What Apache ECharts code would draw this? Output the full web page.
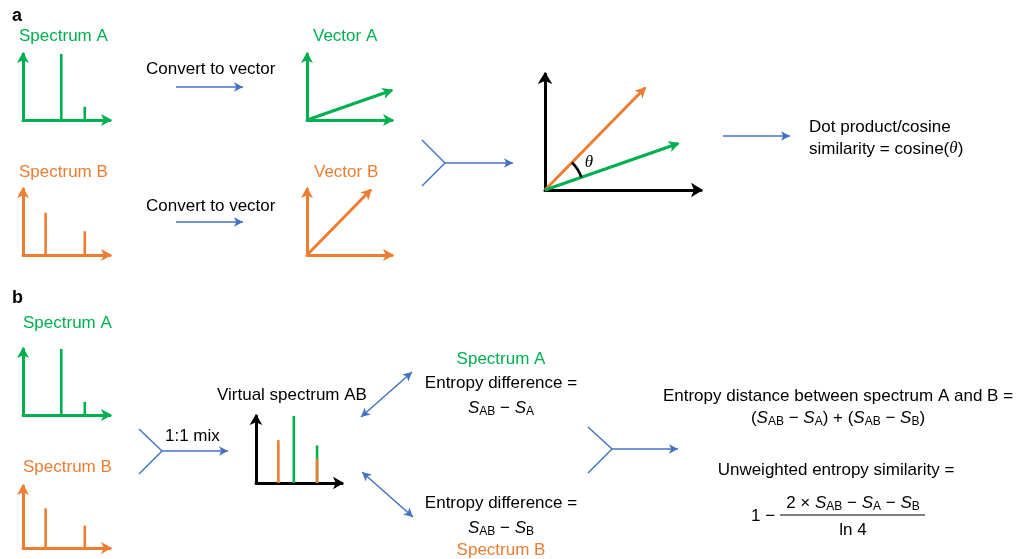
<!DOCTYPE html>
<html><head><meta charset="utf-8">
<script src="https://cdn.jsdelivr.net/npm/echarts@6/dist/echarts.min.js"></script>
<style>html,body{margin:0;padding:0;background:#fff}#c{width:1020px;height:559px}</style>
</head><body><div id="c"></div>
<script>
// ---------- data ----------
const mzA = [44, 71];
const intensityA = [100, 20];
const mzB = [26, 71];
const intensityB = [64, 36];
const vectorA = [0.945, 0.33];
const vectorB = [0.71, 0.725];
const panelLabels = ['a', 'b'];
const spectrumNames = ['Spectrum A', 'Spectrum B'];
const vectorNames = ['Vector A', 'Vector B'];

// ---------- styles ----------
const G = '#00B050', O = '#ED7D31', K = '#000000', BL = '#4472C4';
const FONT = '"Liberation Sans", Arial, Helvetica, sans-serif';
const SERIF = '"Liberation Serif", "Times New Roman", serif';
const FS = 17;

const grids = [
  {left: 23, top: 54, width: 87, height: 66},    // 0 a spectrum A
  {left: 23, top: 189, width: 87, height: 66},   // 1 a spectrum B
  {left: 307, top: 54, width: 85, height: 66},   // 2 vector A
  {left: 307, top: 189, width: 85, height: 66},  // 3 vector B
  {left: 545, top: 74, width: 156, height: 116}, // 4 combined vectors
  {left: 23, top: 349, width: 87, height: 66},   // 5 b spectrum A
  {left: 23, top: 486, width: 87, height: 62},   // 6 b spectrum B
  {left: 256, top: 416, width: 86, height: 67},  // 7 virtual spectrum
  {left: 0, top: 0, width: 1020, height: 559}    // 8 overlay for connectors
];
const axisColor = [G, O, G, O, K, G, O, K];
const xMax = [100, 100, 0.945, 0.945, 1.106, 100, 100, 100];
const yMax = [100, 100, 0.733, 0.733, 0.823, 100, 100, 100];
const arrowSz = [[9, 11], [9, 11], [9, 11], [9, 11], [11, 12], [9, 11], [9, 11], [9.5, 11]];

function axis(gi, max, color, arrow) {
  return {
    type: 'value', gridIndex: gi, min: 0, max: max,
    axisLine: {show: true, onZero: false, symbol: ['none', 'arrow'], symbolSize: arrow,
      symbolOffset: [0, 2], lineStyle: {color: color, width: 3}},
    axisTick: {show: false}, axisLabel: {show: false}, splitLine: {show: false}
  };
}
const xAxes = [], yAxes = [];
for (let i = 0; i < 8; i++) {
  xAxes.push(axis(i, xMax[i], axisColor[i], arrowSz[i]));
  yAxes.push(axis(i, yMax[i], axisColor[i], arrowSz[i]));
}
xAxes.push({type: 'value', gridIndex: 8, min: 0, max: 1020, show: false});
yAxes.push({type: 'value', gridIndex: 8, min: 0, max: 559, inverse: true, show: false});

const zip = (a, b) => a.map((v, i) => [v, b[i]]);
function bars(gi, data, color) {
  return {type: 'bar', xAxisIndex: gi, yAxisIndex: gi, data: data, barWidth: 2.6,
    barGap: '-100%', itemStyle: {color: color}, silent: true, clip: false};
}
// virtual spectrum (1:1 mix): A peaks drawn at their summed height, B drawn over them
const intensityAB = mzA.map((m, i) => intensityA[i] + (mzB.indexOf(m) >= 0 ? intensityB[mzB.indexOf(m)] : 0));

function vec(gi, v, color, size) {
  return {type: 'line', xAxisIndex: gi, yAxisIndex: gi, data: [], silent: true,
    markLine: {silent: true, symbol: ['none', 'arrow'], symbolSize: size,
      symbolOffset: [0, [0, -1.5]],
      label: {show: false}, emphasis: {disabled: true},
      lineStyle: {color: color, width: 3, type: 'solid'},
      data: [[{coord: [0, 0]}, {coord: v}]]}};
}

// connectors (layout, overlay pixel space)
const plainLines = [
  [[422, 140], [445, 163]], [[422, 186], [445, 163]],
  [[139, 429], [162, 451]], [[139, 474], [162, 451]],
  [[588, 427], [612, 449]], [[588, 473], [612, 449]]
];
const singleArrows = [
  [[176, 87], [243, 87]], [[176, 222], [243, 222]],
  [[445, 163], [513, 163]], [[723, 136], [790, 136]],
  [[162, 451], [228, 451]], [[612, 449], [678, 449]]
];
const doubleArrows = [
  [[361, 417], [412, 372]], [[362, 472], [413, 517]]
];
function conn(list, sym) {
  return {type: 'line', xAxisIndex: 8, yAxisIndex: 8, data: [], silent: true,
    markLine: {silent: true, symbol: sym, symbolSize: [7, 9],
      label: {show: false}, emphasis: {disabled: true},
      lineStyle: {color: BL, width: 1.5, type: 'solid'},
      data: list.map(s => [{coord: s[0]}, {coord: s[1]}])}};
}

const series = [
  bars(0, zip(mzA, intensityA), G),
  bars(1, zip(mzB, intensityB), O),
  vec(2, vectorA, G, [8.5, 11]),
  vec(3, vectorB, O, [8.5, 11]),
  vec(4, vectorB, O, [8.5, 11]),
  vec(4, vectorA, G, [8.5, 11]),
  bars(5, zip(mzA, intensityA), G),
  bars(6, zip(mzB, intensityB), O),
  bars(7, zip(mzA, intensityAB), G),
  bars(7, zip(mzB, intensityB), O),
  conn(plainLines, ['none', 'none']),
  conn(singleArrows, ['none', 'arrow']),
  conn(doubleArrows, ['arrow', 'arrow'])
];

const chart = echarts.init(document.getElementById('c'), null, {renderer: 'canvas'});
chart.setOption({
  animation: false, backgroundColor: '#fff',
  grid: grids, xAxis: xAxes, yAxis: yAxes, series: series
});

// ---------- text ----------
const RICH = {
  i: {fontStyle: 'italic', fontSize: FS, fontFamily: FONT, lineHeight: 20},
  s: {fontSize: 12, fontFamily: FONT, lineHeight: 12, verticalAlign: 'bottom'},
  t: {fontStyle: 'italic', fontSize: FS, fontFamily: SERIF, lineHeight: 20}
};
function txt(x, y, text, color, extra) {
  return {type: 'text', x: x, y: y, silent: true, z: 10,
    style: Object.assign({text: text, fill: color || K, fontSize: FS, fontFamily: FONT,
      align: 'left', verticalAlign: 'middle', lineHeight: 20, rich: RICH}, extra || {})};
}
const C = {align: 'center'};
const SAB = '{i|S}{s|AB}';
const graphics = [
  txt(12, 16, panelLabels[0], K, {fontWeight: 'bold', fontSize: 18}),
  txt(19, 36, spectrumNames[0], G),
  txt(146, 69, 'Convert to vector'),
  txt(313, 36, vectorNames[0], G),
  txt(19, 172, spectrumNames[1], O),
  txt(146, 206, 'Convert to vector'),
  txt(314, 172, vectorNames[1], O),
  txt(809, 127, 'Dot product/cosine'),
  txt(809, 149, 'similarity = cosine({t|θ})'),
  txt(589, 163, '{t|θ}', K, C),
  txt(12, 298, panelLabels[1], K, {fontWeight: 'bold', fontSize: 18}),
  txt(23, 323, spectrumNames[0], G),
  txt(23, 467, spectrumNames[1], O),
  txt(165, 436, '1:1 mix'),
  txt(217, 395, 'Virtual spectrum AB'),
  txt(501, 359, spectrumNames[0], G, C),
  txt(501, 383, 'Entropy difference =', K, C),
  txt(501, 408, SAB + ' − {i|S}{s|A}', K, C),
  txt(501, 503, 'Entropy difference =', K, C),
  txt(501, 528, SAB + ' − {i|S}{s|B}', K, C),
  txt(501, 550, spectrumNames[1], O, C),
  txt(838, 396, 'Entropy distance between spectrum A and B =', K, C),
  txt(838, 418, '(' + SAB + ' − {i|S}{s|A}) + (' + SAB + ' − {i|S}{s|B})', K, C),
  txt(836, 470, 'Unweighted entropy similarity =', K, C),
  txt(751, 516, '1 −'),
  txt(853, 503, '2 × ' + SAB + ' − {i|S}{s|A} − {i|S}{s|B}', K, C),
  txt(853, 530, 'ln 4', K, C),
  {type: 'line', silent: true, shape: {x1: 780, y1: 515, x2: 925, y2: 515},
    style: {stroke: K, lineWidth: 1}}
];
// angle arc between the two vectors, from the axis scale
const o = chart.convertToPixel({gridIndex: 4}, [0, 0]);
const pA = chart.convertToPixel({gridIndex: 4}, vectorA);
const pB = chart.convertToPixel({gridIndex: 4}, vectorB);
const angA = Math.atan2(pA[1] - o[1], pA[0] - o[0]);
const angB = Math.atan2(pB[1] - o[1], pB[0] - o[0]);
graphics.push({type: 'arc', silent: true, z: 10,
  shape: {cx: o[0], cy: o[1], r: 38.5, startAngle: angB, endAngle: angA, clockwise: true},
  style: {stroke: K, lineWidth: 2.5, fill: null}});
chart.setOption({graphic: graphics});
</script></body></html>
